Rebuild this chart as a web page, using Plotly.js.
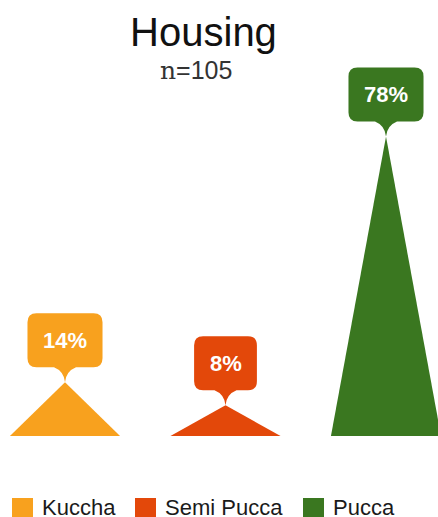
<!DOCTYPE html>
<html>
<head>
<meta charset="utf-8">
<script src="https://cdn.plot.ly/plotly-3.0.1.min.js"></script>
<style>html,body{margin:0;padding:0;background:#fff;}#chart{width:438px;height:517px;}</style>
</head>
<body>
<div id="chart"></div>
<script>
// ---- data ----
var categories = ["Kuccha", "Semi Pucca", "Pucca"];
var percentValues = [14, 8, 78];
var seriesColors = ["#F8A11E", "#E3480A", "#3A7720"];
var chartTitle = "Housing";
var sampleSize = "n=105";

// ---- layout constants ----
var FONT = "Liberation Sans, Arial, sans-serif";
var halfWidth = 0.343;        // triangle half base in category units
var legendX = [12, 135, 303]; // legend item left edges in px
var W = 438, H = 517;
var M = {l: 0, r: 0, t: 52, b: 81};
var plotH = H - M.t - M.b;

var labelFontSize = 22;
var ctx = document.createElement("canvas").getContext("2d");
ctx.font = "bold " + labelFontSize + "px " + FONT;

function calloutPath(text) {
  var tw = ctx.measureText(text).width;
  var w = tw + 31, hw = w / 2, r = 9;
  var b = 15, t = 15 + 54;
  return "M0,0 Q-1,11 -11," + b +
    " L" + (-hw + r) + "," + b + " Q" + (-hw) + "," + b + " " + (-hw) + "," + (b + r) +
    " L" + (-hw) + "," + (t - r) + " Q" + (-hw) + "," + t + " " + (-hw + r) + "," + t +
    " L" + (hw - r) + "," + t + " Q" + hw + "," + t + " " + hw + "," + (t - r) +
    " L" + hw + "," + (b + r) + " Q" + hw + "," + b + " " + (hw - r) + "," + b +
    " L11," + b + " Q1,11 0,0 Z";
}

var traces = [];
var shapes = [];
var annotations = [];

categories.forEach(function (cat, i) {
  var v = percentValues[i];
  traces.push({
    type: "scatter", mode: "lines", name: cat,
    x: [i - halfWidth, i, i + halfWidth, i - halfWidth],
    y: [0, v, 0, 0],
    fill: "toself", fillcolor: seriesColors[i],
    line: {width: 0, color: seriesColors[i]},
    hoverinfo: "skip", showlegend: false
  });
  var label = v + "%";
  shapes.push({
    type: "path", xref: "x", yref: "y",
    xsizemode: "pixel", ysizemode: "pixel",
    xanchor: i, yanchor: v,
    path: calloutPath(label),
    fillcolor: seriesColors[i], line: {width: 0}, layer: "above"
  });
  annotations.push({
    xref: "x", yref: "y", x: i, y: v, yshift: 42,
    text: "<b>" + label + "</b>", showarrow: false,
    xanchor: "center", yanchor: "middle",
    font: {family: FONT, size: labelFontSize, color: "#ffffff"}
  });
  // manual legend
  var ly = (M.t + plotH - 508.5) / plotH; // paper y for legend row
  shapes.push({
    type: "rect", xref: "paper", yref: "paper",
    xsizemode: "pixel", ysizemode: "pixel",
    xanchor: 0, yanchor: ly,
    x0: legendX[i], x1: legendX[i] + 21, y0: -10.5, y1: 10.5,
    fillcolor: seriesColors[i], line: {width: 0}
  });
  annotations.push({
    xref: "paper", yref: "paper", x: (legendX[i] + 28) / W, y: ly,
    yshift: 1,
    text: cat, showarrow: false, xanchor: "left", yanchor: "middle",
    font: {family: FONT, size: 22, color: "#1a1a1a"}
  });
});

annotations.push({
  xref: "paper", yref: "paper", x: 196 / W, y: (M.t + plotH - 70.5) / plotH,
  text: '<span style="font-family:\'DejaVu Serif\'">n</span>=105',
  showarrow: false, xanchor: "center", yanchor: "middle",
  font: {family: FONT, size: 25, color: "#333333"}
});

var layout = {
  width: W, height: H,
  margin: M,
  paper_bgcolor: "#ffffff", plot_bgcolor: "#ffffff",
  showlegend: false,
  title: {
    text: chartTitle, x: 203.5 / W, xref: "container", xanchor: "center",
    y: 1 - 32 / H, yref: "container", yanchor: "middle",
    font: {family: FONT, size: 40, color: "#111111"}
  },
  xaxis: {range: [-65 / 160.5, -65 / 160.5 + W / 160.5], visible: false, fixedrange: true},
  yaxis: {range: [0, plotH / 3.84], visible: false, fixedrange: true},
  shapes: shapes,
  annotations: annotations
};

Plotly.newPlot("chart", traces, layout, {displayModeBar: false, staticPlot: true});
</script>
</body>
</html>
